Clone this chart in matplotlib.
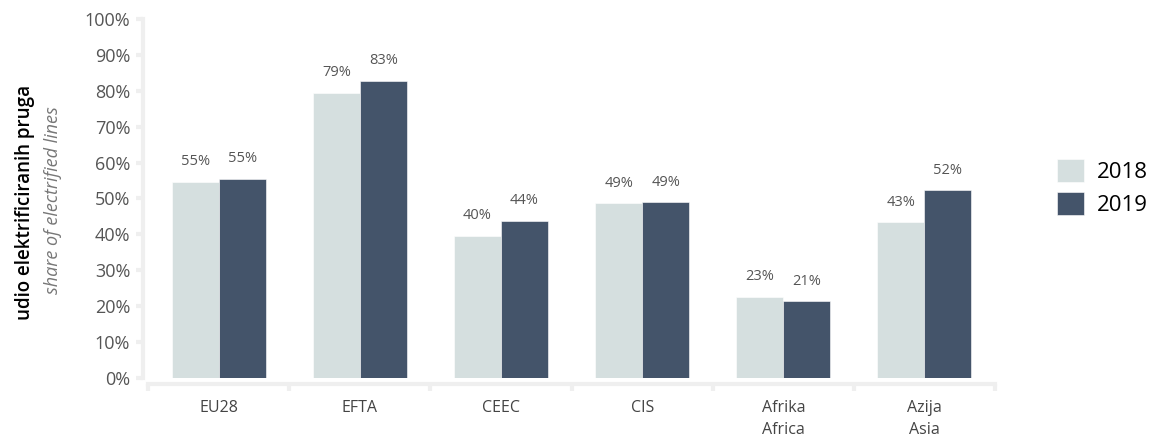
import numpy as np
import matplotlib.pyplot as plt

categories = ['EU28', 'EFTA', 'CEEC', 'CIS', 'Afrika\nAfrica', 'Azija\nAsia']
share_2018 = [54.6, 79.4, 39.6, 48.7, 22.6, 43.3]
share_2019 = [55.4, 82.7, 43.7, 48.9, 21.4, 52.3]

plt.rcParams['font.family'] = ['Open Sans', 'DejaVu Sans']

fig = plt.figure(figsize=(11.49, 4.40), dpi=100)
ax = fig.add_axes([0.129, 0.141, 0.737, 0.816])

# spines first: moving them resets the tick styling
for s in ['top', 'right']:
    ax.spines[s].set_visible(False)
for s in ['left', 'bottom']:
    ax.spines[s].set_color('#efefef')
    ax.spines[s].set_linewidth(3)
    ax.spines[s].set_position(('outward', 4))

x = np.arange(len(categories))
w = 0.333
b1 = ax.bar(x - w / 2, share_2018, w, color='#d5dfdf', edgecolor='white', linewidth=0.4, label='2018')
b2 = ax.bar(x + w / 2, share_2019, w, color='#44546a', edgecolor='white', linewidth=0.4, label='2019')

for bars, vals in [(b1, share_2018), (b2, share_2019)]:
    for r, v in zip(bars, vals):
        ax.text(r.get_x() + r.get_width() / 2, v + 3.5, f'{v:.0f}%', ha='center', va='bottom',
                fontsize=10.5, color='#555555')

ax.set_ylim(0, 100)
ax.set_xlim(-0.5, 5.5)
ax.set_yticks(np.arange(0, 101, 10))
ax.set_yticklabels([f'{t}%' for t in range(0, 101, 10)], fontsize=13, color='#555555')
ax.set_xticks(x)
ax.set_xticklabels(categories, fontsize=11.5, color='#444444', linespacing=1.5)
ax.set_xticks(np.arange(-0.5, 6, 1), minor=True)
ax.tick_params(axis='x', which='major', length=0, pad=12)
ax.tick_params(axis='x', which='minor', length=5, width=3, color='#efefef')
ax.tick_params(axis='y', length=5, width=3, color='#efefef', pad=4)

fig.text(0.022, 0.54, 'udio elektrificiranih pruga', rotation=90, ha='center', va='center',
         fontsize=13.5, fontweight='semibold', color='black')
fig.text(0.046, 0.545, 'share of electrified lines', rotation=90, ha='center', va='center',
         fontsize=13, color='#777777', style='italic')

ax.legend(loc='center left', bbox_to_anchor=(1.073, 0.53), frameon=False, fontsize=16,
          handlelength=1.2, handleheight=1.2, handletextpad=0.6, labelspacing=0.4,
          borderpad=0, borderaxespad=0)

fig.savefig('out.png', dpi=100)
